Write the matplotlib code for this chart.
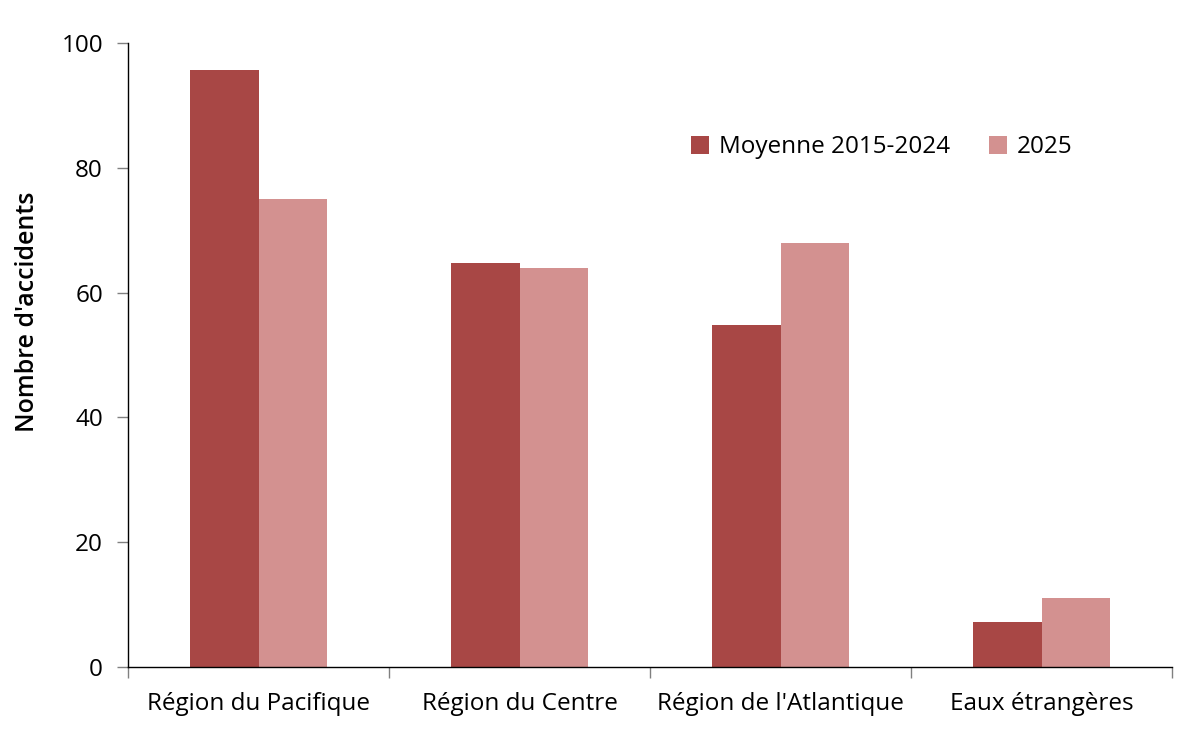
import matplotlib
matplotlib.use("Agg")
import matplotlib.pyplot as plt
import numpy as np

categories = ["Région du Pacifique", "Région du Centre", "Région de l'Atlantique", "Eaux étrangères"]
moyenne = [95.6, 64.7, 54.8, 7.2]
annee2025 = [75, 64, 68, 11]
series_labels = ["Moyenne 2015-2024", "2025"]
yticks = [0, 20, 40, 60, 80, 100]

plt.rcParams['font.family'] = ['Open Sans', 'DejaVu Sans']

fig = plt.figure(figsize=(12, 7.45), dpi=100)
ax = fig.add_axes([128/1200, 1-667/745, (1172-128)/1200, (667-43)/745])

x = np.arange(len(categories))
w = 0.262
ax.bar(x - w/2, moyenne, w, color="#A84745", label=series_labels[0])
ax.bar(x + w/2, annee2025, w, color="#D39190", label=series_labels[1])

ax.set_xlim(-0.5, 3.5)
ax.set_ylim(0, 100)
ax.set_yticks(yticks)
ax.set_yticklabels([str(v) for v in yticks], fontsize=17.5)
ax.tick_params(axis='y', length=8, color='#808080', width=1, pad=10)

ax.set_xticks([-0.5, 0.5, 1.5, 2.5, 3.5])
ax.set_xticklabels([])
ax.set_xticks(x, minor=True)
ax.set_xticklabels(categories, minor=True, fontsize=17.5)
ax.tick_params(axis='x', which='major', length=8, color='#808080', width=1)
ax.tick_params(axis='x', which='minor', length=0, pad=18)

for s in ['top', 'right']:
    ax.spines[s].set_visible(False)
for s in ['left', 'bottom']:
    ax.spines[s].set_color('black')
    ax.spines[s].set_linewidth(1)

ax.set_ylabel("Nombre d'accidents", fontsize=18, fontweight='semibold')
ax.yaxis.set_label_coords(-0.084, 0.569)

ax.legend(loc='center left', bbox_to_anchor=(0.518, 0.833), ncol=2, frameon=False,
          fontsize=17.5, handlelength=0.75, handleheight=0.75, handletextpad=0.4,
          columnspacing=1.6)

fig.savefig("out.png", dpi=100)
